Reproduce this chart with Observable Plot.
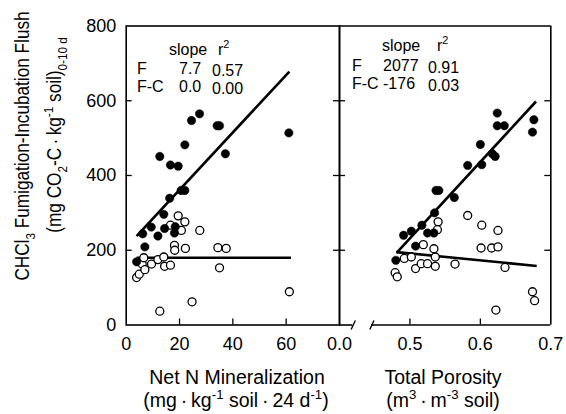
<!DOCTYPE html>
<html><head><meta charset="utf-8">
<script src="https://cdn.jsdelivr.net/npm/d3@7"></script>
<script src="https://cdn.jsdelivr.net/npm/@observablehq/plot@0.6"></script>
<style>
body{margin:0;background:#fff;}
#wrap{position:relative;width:566px;height:414px;overflow:hidden;font-family:"Liberation Sans",Arial,sans-serif;}
.panel{position:absolute;top:0;}
#overlay{position:absolute;left:0;top:0;}
</style></head><body>
<div id="wrap"><div id="left" class="panel" style="left:0"></div><div id="right" class="panel" style="left:300px"></div><svg id="overlay" width="566" height="414"></svg></div>
<script>
// ---- data ----
const yTicks = [0, 200, 400, 600, 800];
const yInnerTicks = [200, 400, 600];
const leftXTicks = [0, 20, 40, 60];
const leftXInner = [20, 40, 60];
const rightXTicks = [0.4, 0.5, 0.6, 0.7];
const rightXTickLabels = ["0.0", "0.5", "0.6", "0.7"];
const rightXInner = [0.5, 0.6];

// Left panel: Net N mineralization
const leftF_x = [3.9, 6.2, 7.0, 9.4, 11.9, 12.6, 14.1, 14.4, 16.3, 16.6, 18.1, 18.4, 19.5, 20.6, 22.0, 22.0, 24.5, 27.5, 34.1, 35.0, 37.2, 61.0];
const leftF_y = [169, 244, 209, 262, 238, 451, 296, 258, 339, 428, 246, 263, 425, 360, 360, 482, 547, 565, 533, 533, 458, 514];
const leftFC_x = [3.9, 4.9, 6.0, 6.6, 7.0, 9.5, 11.9, 12.6, 14.1, 14.4, 16.6, 16.6, 18.1, 18.2, 19.5, 20.7, 22.0, 22.2, 24.7, 27.6, 34.4, 35.0, 37.5, 61.2];
const leftFC_y = [127, 136, 163, 180, 148, 163, 175, 37, 182, 157, 160, 267, 213, 200, 292, 253, 276, 205, 62, 253, 207, 153, 205, 89];
const leftFit_x1 = [3.9, 3.9], leftFit_x2 = [61.2, 61.8];
const leftFit_y1 = [238, 180], leftFit_y2 = [678, 180];

// Right panel: total porosity
const rightF_x = [0.480, 0.491, 0.502, 0.508, 0.517, 0.525, 0.534, 0.535, 0.537, 0.541, 0.563, 0.582, 0.600, 0.602, 0.617, 0.621, 0.624, 0.624, 0.634, 0.674, 0.676];
const rightF_y = [173, 240, 251, 211, 267, 246, 246, 300, 360, 360, 341, 427, 483, 429, 458, 451, 567, 533, 533, 516, 549];
const rightFC_x = [0.479, 0.482, 0.492, 0.502, 0.508, 0.516, 0.519, 0.525, 0.534, 0.536, 0.536, 0.540, 0.539, 0.564, 0.582, 0.602, 0.601, 0.616, 0.625, 0.625, 0.622, 0.635, 0.674, 0.677];
const rightFC_y = [140, 129, 178, 182, 151, 164, 215, 164, 204, 182, 157, 276, 255, 163, 293, 267, 206, 206, 209, 253, 40, 154, 89, 65];
const rightFit_x1 = [0.481, 0.481], rightFit_x2 = [0.679, 0.680];
const rightFit_y1 = [193, 195], rightFit_y2 = [598, 158];

// axis break on the porosity axis
const breakX1 = [0.4165, 0.4430], breakX2 = [0.4225, 0.4490];
const breakY1 = [-12, -12], breakY2 = [12, 12];
const bottomSegX1 = [0.4, 0.4455], bottomSegX2 = [0.419, 0.7];

// stats table
const seriesNames = ["F", "F-C"];
const leftSlope = ["7.7", "0.0"], leftR2 = ["0.57", "0.00"];
const rightSlope = ["2077", "-176"], rightR2 = ["0.91", "0.03"];

// ---- layout ----
const H = 360, MT = 25.5, MB = 35.5, TL = 6;
const innerH = H - MT - MB;
const font = "'Liberation Sans', Arial, sans-serif";
const baseStyle = {fontFamily: font, fontSize: "18px", background: "transparent", overflow: "visible", color: "black"};

const LW = 345, LML = 125.7, LMR = 6, LIW = LW - LML - LMR;
const left = Plot.plot({
  width: LW, height: H, marginLeft: LML, marginRight: LMR, marginTop: MT, marginBottom: MB,
  style: baseStyle,
  x: {domain: [0, 80]}, y: {domain: [0, 800]},
  marks: [
    Plot.frame({stroke: "black", strokeWidth: 1.6}),
    Plot.tickY(yInnerTicks, {y: d => d, insetRight: LIW - TL, strokeWidth: 1.3}),
    Plot.tickY(yInnerTicks, {y: d => d, insetLeft: LIW - TL, strokeWidth: 1.3}),
    Plot.tickX(leftXInner, {x: d => d, insetTop: innerH - TL, strokeWidth: 1.3}),
    Plot.axisY(yTicks, {tickSize: 0, tickPadding: 10, fontSize: 18, label: null}),
    Plot.axisX(leftXTicks, {tickSize: 0, tickPadding: 12, fontSize: 18, label: null}),
    Plot.link(leftFit_x1, {x1: leftFit_x1, x2: leftFit_x2, y1: leftFit_y1, y2: leftFit_y2, stroke: "black", strokeWidth: 2.6}),
    Plot.dot(leftFC_x, {x: leftFC_x, y: leftFC_y, r: 4, fill: "white", stroke: "black", strokeWidth: 1.3}),
    Plot.dot(leftF_x, {x: leftF_x, y: leftF_y, r: 4.2, fill: "black", stroke: "black", strokeWidth: 0.5})
  ]
});
document.getElementById("left").appendChild(left);

const RW = 266, RML = 39, RMR = 15.7, RIW = RW - RML - RMR;
const right = Plot.plot({
  width: RW, height: H, marginLeft: RML, marginRight: RMR, marginTop: MT, marginBottom: MB,
  style: baseStyle,
  x: {domain: [0.4, 0.7]}, y: {domain: [0, 800], axis: null},
  marks: [
    Plot.ruleX(rightXTicks.filter((d, i) => i === 0 || i === rightXTicks.length - 1), {stroke: "black", strokeWidth: 1.6}),
    Plot.ruleY([800], {stroke: "black", strokeWidth: 1.6}),
    Plot.ruleY(bottomSegX1, {y: 0, x1: bottomSegX1, x2: bottomSegX2, stroke: "black", strokeWidth: 1.6}),
    Plot.link(breakX1, {x1: breakX1, x2: breakX2, y1: breakY1, y2: breakY2, stroke: "black", strokeWidth: 1.4}),
    Plot.tickY(yInnerTicks, {y: d => d, insetRight: RIW - TL, strokeWidth: 1.3}),
    Plot.tickY(yInnerTicks, {y: d => d, insetLeft: RIW - TL, strokeWidth: 1.3}),
    Plot.tickX(rightXInner, {x: d => d, insetTop: innerH - TL, strokeWidth: 1.3}),
    Plot.axisX(rightXTicks, {tickSize: 0, tickPadding: 12, fontSize: 18, label: null,
      tickFormat: d => rightXTickLabels[rightXTicks.indexOf(d)]}),
    Plot.link(rightFit_x1, {x1: rightFit_x1, x2: rightFit_x2, y1: rightFit_y1, y2: rightFit_y2, stroke: "black", strokeWidth: 2.6}),
    Plot.dot(rightFC_x, {x: rightFC_x, y: rightFC_y, r: 4, fill: "white", stroke: "black", strokeWidth: 1.3}),
    Plot.dot(rightF_x, {x: rightF_x, y: rightF_y, r: 4.2, fill: "black", stroke: "black", strokeWidth: 0.5})
  ]
});
document.getElementById("right").appendChild(right);

// ---- text overlay ----
const ov = d3.select("#overlay").style("font-family", font);
function rich(x, y, parts, size, anchor, transform) {
  const t = ov.append("text").attr("x", x).attr("y", y).attr("font-size", size)
    .attr("text-anchor", anchor || "start").attr("fill", "black");
  if (transform) t.attr("transform", transform);
  let shift = 0;
  for (const [s, k] of parts) {
    const target = k === "sup" ? -0.42 * size : k === "sub" ? 0.3 * size : 0;
    t.append("tspan").attr("dy", target - shift).attr("font-size", k ? 0.68 * size : size).text(s);
    shift = target;
  }
  return t;
}

// y title
rich(0, 0, [["CHCl", ""], ["3", "sub"], [" Fumigation-Incubation Flush", ""]], 20, "middle",
  "translate(29,146) rotate(-90) scale(0.86,1)");
rich(0, 0, [["(mg CO", ""], ["2", "sub"], ["-C\u2009\u00B7\u2009kg", ""], ["-1", "sup"], [" soil)", ""], ["0-10 d", "sub"]], 20, "middle",
  "translate(61,135) rotate(-90) scale(0.86,1)");

// x titles
rich(237, 384, [["Net N Mineralization", ""]], 19.5, "middle");
rich(236, 407, [["(mg\u2009\u00B7\u2009kg", ""], ["-1", "sup"], [" soil\u2009\u00B7\u200924 d", ""], ["-1", "sup"], [")", ""]], 19.5, "middle");
rich(443, 384, [["Total Porosity", ""]], 19.5, "middle");
rich(443, 407, [["(m", ""], ["3", "sup"], ["\u2009\u00B7\u2009m", ""], ["-3", "sup"], [" soil)", ""]], 19.5, "middle");

// stats tables
const AS = 16;
rich(169, 55, [["slope", ""]], AS);
rich(218, 55, [["r", ""], ["2", "sup"]], AS);
rich(137, 74, [[seriesNames[0], ""]], AS);
rich(179, 74, [[leftSlope[0], ""]], AS);
rich(212, 76, [[leftR2[0], ""]], AS);
rich(137, 92, [[seriesNames[1], ""]], AS);
rich(179, 92, [[leftSlope[1], ""]], AS);
rich(212, 94, [[leftR2[1], ""]], AS);

rich(382, 51, [["slope", ""]], AS);
rich(437, 51, [["r", ""], ["2", "sup"]], AS);
rich(352, 71, [[seriesNames[0], ""]], AS);
rich(383, 71, [[rightSlope[0], ""]], AS);
rich(428, 73, [[rightR2[0], ""]], AS);
rich(352, 89, [[seriesNames[1], ""]], AS);
rich(383, 89, [[rightSlope[1], ""]], AS);
rich(428, 91, [[rightR2[1], ""]], AS);
</script>
</body></html>
